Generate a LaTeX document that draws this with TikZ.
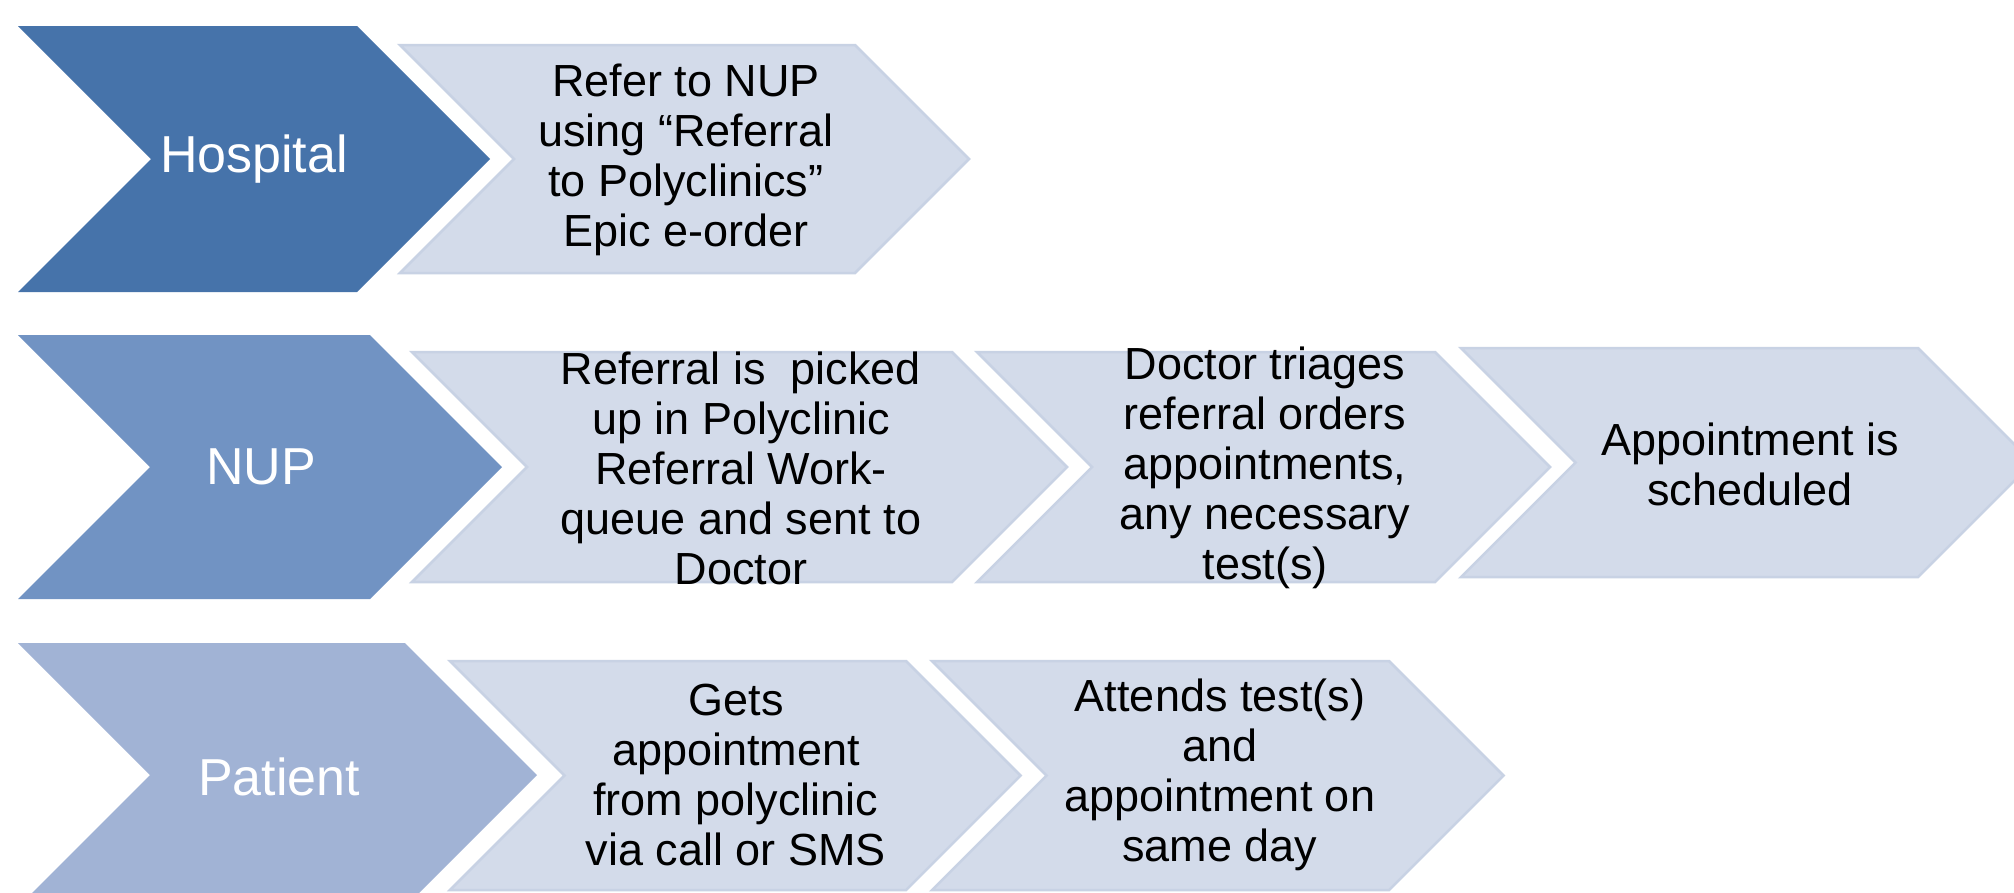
\documentclass[tikz,border=0pt]{standalone}
\usepackage{fontspec}
\setmainfont{Liberation Sans}
\definecolor{hospblue}{RGB}{70,115,170}
\definecolor{nupblue}{RGB}{113,147,195}
\definecolor{patblue}{RGB}{161,179,213}
\definecolor{stepfill}{RGB}{211,219,234}
\definecolor{stepline}{RGB}{200,210,228}
\tikzset{
  labelchev/.style={line width=0pt},
  stepchev/.style={fill=stepfill, draw=stepline, line width=2.5pt, line join=miter},
  labeltext/.style={text=white, align=center, inner sep=0pt,
    font=\fontsize{52}{60}\selectfont},
  steptext/.style={text=black, align=center, inner sep=0pt,
    font=\fontsize{45}{50}\selectfont},
}
% \chevronshape{style}{left}{top}{top-right x}{height}
\newcommand{\chevronshape}[5]{%
  \path[#1] (#2,#3) -- (#4,#3) -- ({#4+0.5*#5},{#3+0.5*#5})
    -- (#4,{#3+#5}) -- (#2,{#3+#5}) -- ({#2+0.5*#5},{#3+0.5*#5}) -- cycle;}
\begin{document}
\begin{tikzpicture}[x=1pt,y=-1pt]
\useasboundingbox (0,0) rectangle (2014,892);
\clip (0,0) rectangle (2014,892);
\fill[white] (0,0) rectangle (2014,892);

% Hospital row
\chevronshape{fill=hospblue}{18}{26}{357}{266}
\chevronshape{stepchev}{400}{45}{855}{228}
\node[labeltext] (hosp) at (254,159) {Hospital};
\node[steptext] (refer) at (686,160) {Refer to NUP\\using “Referral\\to Polyclinics”\\Epic e-order};

% NUP row
\chevronshape{fill=nupblue}{18}{335}{370}{264}
\chevronshape{stepchev}{412}{352}{952}{230}
\chevronshape{stepchev}{977}{352}{1435}{230}
\chevronshape{stepchev}{1461}{348}{1918}{229}
\node[labeltext] (nup) at (261,467) {NUP};
\node[steptext] (picked) at (741,468) {Referral is~ picked\\up in Polyclinic\\Referral Work-\\queue and sent to\\Doctor};
\node[steptext] (triage) at (1265,468) {Doctor triages\\referral orders\\appointments,\\any necessary\\test(s)};
\node[steptext] (sched) at (1750,464) {Appointment is\\scheduled};

% Patient row
\chevronshape{fill=patblue}{18}{643}{405}{264}
\chevronshape{stepchev}{450}{661}{906}{229}
\chevronshape{stepchev}{932}{661}{1389}{229}
\node[labeltext] (pat) at (279,777) {Patient};
\node[steptext] (gets) at (736,775) {Gets\\appointment\\from polyclinic\\via call or SMS};
\node[steptext] (attend) at (1220,775) {Attends test(s)\\and\\appointment on\\same day};
\end{tikzpicture}
\end{document}
